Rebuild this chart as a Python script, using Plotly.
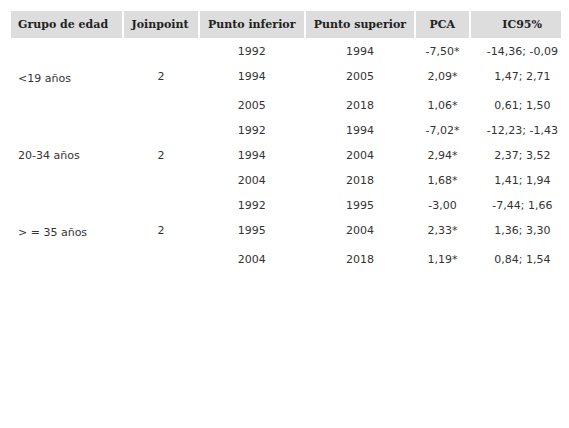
import plotly.graph_objects as go

headers = ["Grupo de edad", "Joinpoint", "Punto inferior", "Punto superior", "PCA", "IC95%"]
grupo = ["", "<19 años", "", "", "20-34 años", "", "", "> = 35 años", ""]
joinpoint = ["", "2", "", "", "2", "", "", "2", ""]
inferior = ["1992", "1994", "2005", "1992", "1994", "2004", "1992", "1995", "2004"]
superior = ["1994", "2005", "2018", "1994", "2004", "2018", "1995", "2004", "2018"]
pca = ["-7,50*", "2,09*", "1,06*", "-7,02*", "2,94*", "1,68*", "-3,00", "2,33*", "1,19*"]
ic95 = ["-14,36; -0,09", "1,47; 2,71", "0,61; 1,50", "-12,23; -1,43", "2,37; 3,52",
        "1,41; 1,94", "-7,44; 1,66", "1,36; 3,30", "0,84; 1,54"]


def nb(vals):
    # non-breaking spaces keep every cell on one line
    return [v.replace(" ", "\u00a0") if v else "\u00a0" for v in vals]


fig = go.Figure(go.Table(
    domain=dict(x=[0, 1], y=[0, 1]),
    columnwidth=[114, 76, 107, 111, 55, 106],
    header=dict(
        values=[f"<b>{h}</b>" for h in nb(headers)],
        fill_color="#dddddd",
        line=dict(color="white", width=2),
        font=dict(family="DejaVu Serif", size=11, color="#222222"),
        align=["left", "center", "center", "center", "center", "center"],
        height=28,
    ),
    cells=dict(
        values=[nb(grupo), nb(joinpoint), inferior, superior, pca, nb(ic95)],
        fill_color="white",
        line=dict(color="white", width=1),
        font=dict(family="DejaVu Sans", size=11, color="#333333"),
        align=["left", "center", "center", "center", "center", "center"],
        height=25,
    ),
))
fig.update_layout(width=569, height=428, margin=dict(l=2, r=2, t=2, b=0),
                  paper_bgcolor="white")
fig.write_html("out.html")
